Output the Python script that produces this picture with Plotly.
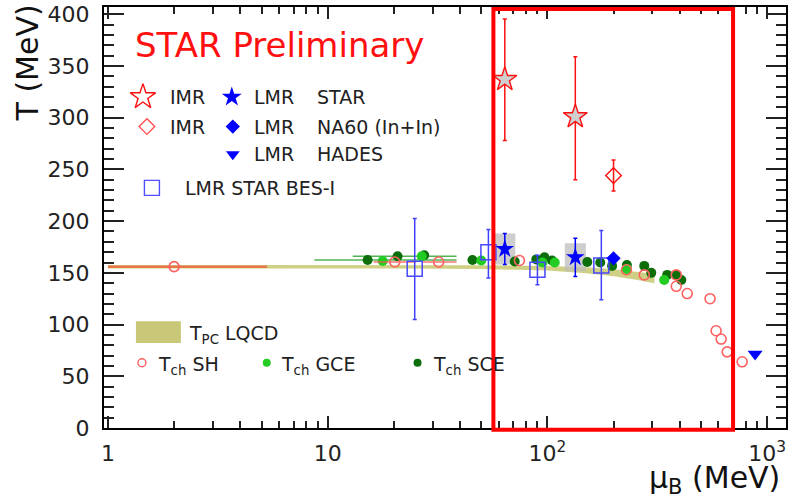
import plotly.graph_objects as go

# ---------------- data ----------------
# LQCD pseudo-critical temperature band
mu_lqcd = [1, 20, 50, 100, 150, 200, 250, 307]
T_lqcd = [156, 156, 155.5, 154.5, 152.5, 150, 147.5, 144.5]
T_lqcd_hw = [1.7, 1.7, 1.8, 2.2, 2.8, 3.4, 4.0, 4.6]

# SH line at low mu_B
mu_sh_line = [1, 5.3]
T_sh_line = [156, 156]

# T_ch statistical hadronization (open red circles)
mu_sh = [2, 20.2, 32, 74.6, 229, 276, 386, 386, 433, 550, 586, 618, 658, 770]
T_sh = [156, 160.5, 160.5, 162, 153, 148, 148, 137, 130, 125, 94, 86, 73.6, 64]
mu_sh_errp = [0, 5, 6.6, 0, 0, 0, 0, 0, 0, 0, 0, 0, 0, 0]
mu_sh_errm = [0, 4, 5, 0, 0, 0, 0, 0, 0, 0, 0, 0, 0, 0]

# T_ch GCE (bright green)
mu_gce = [17.8, 26.8, 50, 95, 108, 230, 340]
T_gce = [161.5, 166, 162, 160, 160, 153.8, 143]

# T_ch SCE (dark green)
mu_sce = [15.2, 20.8, 27.5, 45.6, 71, 89, 97, 105, 152, 174, 197, 230, 276, 297, 351, 386, 407]
T_sce = [162.4, 166, 167, 162.4, 161, 163, 165, 162, 160.5, 160, 156.7, 157.6, 156.7, 150, 148, 148, 143]
mu_sce_errp = [23.4, 17.8, 0, 0, 0, 0, 0, 0, 0, 0, 0, 0, 0, 0, 0, 0, 0]
mu_sce_errm = [6.5, 7.8, 0, 0, 0, 0, 0, 0, 0, 0, 0, 0, 0, 0, 0, 0, 0]

# IMR STAR (open stars)
mu_imr_star = [64, 134]
T_imr_star = [337, 301]
T_imr_star_errp = [58.5, 58]
T_imr_star_errm = [59, 61]

# IMR NA60 (open diamond)
mu_imr_na60 = [200]
T_imr_na60 = [244]
T_imr_na60_err = [15]

# LMR STAR (filled stars)
mu_lmr_star = [64, 134]
T_lmr_star = [173, 165]
T_lmr_star_stat = [15, 18.5]
T_lmr_star_syst = [15, 13.5]

# LMR NA60 (In+In)
mu_lmr_na60 = [200]
T_lmr_na60 = [164]

# LMR HADES
mu_lmr_hades = [882]
T_lmr_hades = [71.6]

# LMR STAR BES-I (open squares)
mu_bes = [24.9, 53.9, 90.1, 176]
T_bes = [154, 170, 153, 157]
T_bes_errp = [48.5, 22, 14, 34]
T_bes_errm = [49, 25, 14.5, 33]

# highlighted mu_B window
mu_box = [56.8, 700]

# axis ticks
x_tickvals = [1, 10, 100, 1000]
x_ticktext = ["1", "10", "10<sup>2</sup>", "10<sup>3</sup>"]
x_minor = [2, 3, 4, 5, 6, 7, 8, 9, 20, 30, 40, 50, 60, 70, 80, 90,
           200, 300, 400, 500, 600, 700, 800, 900]

# ---------------- layout helpers ----------------
PX_L, PX_R, PX_T, PX_B = 104, 787, 2, 428
W, H = 790, 501


def px(x):
    return (x - PX_L) / (PX_R - PX_L)


def py(y):
    return (PX_B - y) / (PX_B - PX_T)


FONT = "DejaVu Sans"
BLUE = "#0000ff"
RED = "#ff1010"

fig = go.Figure()

# LQCD band
upper = [t + h for t, h in zip(T_lqcd, T_lqcd_hw)]
lower = [t - h for t, h in zip(T_lqcd, T_lqcd_hw)]
fig.add_trace(go.Scatter(
    x=mu_lqcd + mu_lqcd[::-1], y=upper + lower[::-1],
    fill="toself", fillcolor="rgba(200,200,110,0.85)",
    line=dict(width=0), mode="lines", hoverinfo="skip"))

fig.add_trace(go.Scatter(
    x=mu_sh_line, y=T_sh_line, mode="lines",
    line=dict(color="rgba(240,90,60,0.75)", width=2.5)))

# systematic boxes for LMR STAR
BOX_DEC = 0.048
bx, by = [], []
for m, t, s in zip(mu_lmr_star, T_lmr_star, T_lmr_star_syst):
    x0, x1 = m / 10 ** BOX_DEC, m * 10 ** BOX_DEC
    bx += [x0, x1, x1, x0, x0, None]
    by += [t - s, t - s, t + s, t + s, t - s, None]
fig.add_trace(go.Scatter(x=bx, y=by, fill="toself",
                         fillcolor="rgba(190,190,190,0.75)",
                         line=dict(width=0), mode="lines"))

# SCE
fig.add_trace(go.Scatter(
    x=mu_sce, y=T_sce, mode="markers",
    marker=dict(symbol="circle", size=10, color="#0b6e0b"),
    error_x=dict(type="data", symmetric=False, array=mu_sce_errp,
                 arrayminus=mu_sce_errm, color="rgba(40,160,40,0.8)",
                 thickness=1.5, width=0)))
# GCE
fig.add_trace(go.Scatter(
    x=mu_gce, y=T_gce, mode="markers",
    marker=dict(symbol="circle", size=10, color="#22cc22")))
# SH
fig.add_trace(go.Scatter(
    x=mu_sh, y=T_sh, mode="markers",
    marker=dict(symbol="circle-open", size=10, color="#ff6060",
                line=dict(width=1.6)),
    error_x=dict(type="data", symmetric=False, array=mu_sh_errp,
                 arrayminus=mu_sh_errm, color="rgba(255,80,80,0.8)",
                 thickness=1.5, width=0)))

# BES-I squares
fig.add_trace(go.Scatter(
    x=mu_bes, y=T_bes, mode="markers",
    marker=dict(symbol="square-open", size=15, color="#4848ff",
                line=dict(width=1.5)),
    error_y=dict(type="data", symmetric=False, array=T_bes_errp,
                 arrayminus=T_bes_errm, color="#4040ff",
                 thickness=1.5, width=2)))

# IMR STAR stars
fig.add_trace(go.Scatter(
    x=mu_imr_star, y=T_imr_star, mode="markers",
    marker=dict(symbol="star", size=18, color="#cfcfcf",
                line=dict(color=RED, width=1.4)),
    error_y=dict(type="data", symmetric=False, array=T_imr_star_errp,
                 arrayminus=T_imr_star_errm, color=RED,
                 thickness=1.5, width=2)))
# IMR NA60 diamond
fig.add_trace(go.Scatter(
    x=mu_imr_na60, y=T_imr_na60, mode="markers",
    marker=dict(symbol="diamond-open", size=12, color=RED,
                line=dict(width=1.4)),
    error_y=dict(type="data", array=T_imr_na60_err, color=RED,
                 thickness=1.5, width=2)))

# LMR STAR stars
fig.add_trace(go.Scatter(
    x=mu_lmr_star, y=T_lmr_star, mode="markers",
    marker=dict(symbol="star", size=14, color=BLUE),
    error_y=dict(type="data", array=T_lmr_star_stat, color=BLUE,
                 thickness=1.5, width=2)))
# LMR NA60
fig.add_trace(go.Scatter(
    x=mu_lmr_na60, y=T_lmr_na60, mode="markers",
    marker=dict(symbol="diamond", size=11, color=BLUE)))
# LMR HADES
fig.add_trace(go.Scatter(
    x=mu_lmr_hades, y=T_lmr_hades, mode="markers",
    marker=dict(symbol="triangle-down", size=13, color=BLUE)))

# ---------------- legend keys (pixel overlay axes) ----------------
keys = [
    (143, 93, "star-open", 19, RED, 1.4),
    (232, 93, "star", 15, BLUE, 0),
    (147, 123, "diamond-open", 12, "#ff5050", 1.4),
    (233, 123, "diamond", 11, BLUE, 0),
    (233, 151, "triangle-down", 12, BLUE, 0),
    (152, 185, "square-open", 15, "#5050ff", 1.4),
    (142, 362, "circle-open", 8, "#ff6060", 1.4),
    (267, 362, "circle", 8, "#22cc22", 0),
    (418, 362, "circle", 8, "#0b6e0b", 0),
]
for kx, ky, sym, sz, col, lw in keys:
    fig.add_trace(go.Scatter(
        x=[kx], y=[ky], xaxis="x2", yaxis="y2", mode="markers",
        marker=dict(symbol=sym, size=sz, color=col,
                    line=dict(width=lw, color=col)),
        hoverinfo="skip"))

texts = [
    (133, 40, "STAR Preliminary", 34, RED),
    (168, 93, "IMR", 19, "#222"),
    (252, 93, "LMR", 19, "#222"),
    (315, 93, "STAR", 19, "#222"),
    (168, 123, "IMR", 19, "#222"),
    (252, 123, "LMR", 19, "#222"),
    (315, 123, "NA60 (In+In)", 19, "#222"),
    (252, 151, "LMR", 19, "#222"),
    (315, 151, "HADES", 19, "#222"),
    (183, 185, "LMR STAR BES-I", 19, "#222"),
    (187, 333, "T<sub>PC</sub> LQCD", 19, "#222"),
    (156, 365, "T<sub>ch</sub> SH", 19, "#222"),
    (279, 365, "T<sub>ch</sub> GCE", 19, "#222"),
    (431, 365, "T<sub>ch</sub> SCE", 19, "#222"),
]
annotations = []
for tx, ty, s, fs, col in texts:
    annotations.append(dict(
        x=px(tx), y=py(ty), xref="paper", yref="paper", text=s,
        showarrow=False, xanchor="left", yanchor="middle",
        font=dict(family=FONT, size=fs, color=col)))

annotations.append(dict(
    x=px(27), y=py(59), xref="paper", yref="paper", text="T (MeV)",
    showarrow=False, textangle=-90, xanchor="center", yanchor="middle",
    font=dict(family=FONT, size=30, color="#111")))
annotations.append(dict(
    x=px(783), y=py(480), xref="paper", yref="paper",
    text="μ<sub>B</sub> (MeV)",
    showarrow=False, xanchor="right", yanchor="middle",
    font=dict(family=FONT, size=30, color="#111")))

shapes = [
    dict(type="rect", xref="x2", yref="y2", x0=136, x1=181, y0=320, y1=342,
         fillcolor="#c8c878", line=dict(width=0), layer="above"),
    dict(type="rect", xref="x", yref="paper", x0=mu_box[0], x1=mu_box[1],
         y0=-0.004, y1=0.995, line=dict(color="#ff0000", width=4),
         fillcolor="rgba(0,0,0,0)", layer="above"),
]

axis_common = dict(showline=True, linecolor="black", linewidth=2,
                   mirror="ticks", ticks="inside", tickwidth=2,
                   tickcolor="#222", showgrid=False, zeroline=False,
                   ticklabeloverflow="allow",
                   tickfont=dict(family=FONT, size=22, color="#222"))

fig.update_layout(
    width=W, height=H,
    margin=dict(l=PX_L, r=W - PX_R, t=PX_T, b=H - PX_B, pad=0),
    paper_bgcolor="white", plot_bgcolor="white", showlegend=False,
    xaxis=dict(type="log", range=[-0.018, 3.086], tickmode="array",
               tickvals=x_tickvals, ticktext=x_ticktext, ticklen=12,
               ticklabelstandoff=5,
               minor=dict(tickmode="array", tickvals=x_minor, ticklen=7,
                          tickwidth=2, tickcolor="#222", ticks="inside",
                          showgrid=False),
               **axis_common),
    yaxis=dict(range=[0, 407], tick0=0, dtick=50, ticklen=20,
               ticklabelstandoff=8,
               minor=dict(dtick=10, ticklen=10, tickwidth=2,
                          tickcolor="#222", ticks="inside", showgrid=False),
               **axis_common),
    xaxis2=dict(overlaying="x", anchor="y2", range=[PX_L, PX_R],
                visible=False, fixedrange=True),
    yaxis2=dict(overlaying="y", anchor="x2", range=[PX_B, PX_T],
                visible=False, fixedrange=True),
    annotations=annotations,
    shapes=shapes,
)

fig.write_html("out.html")
